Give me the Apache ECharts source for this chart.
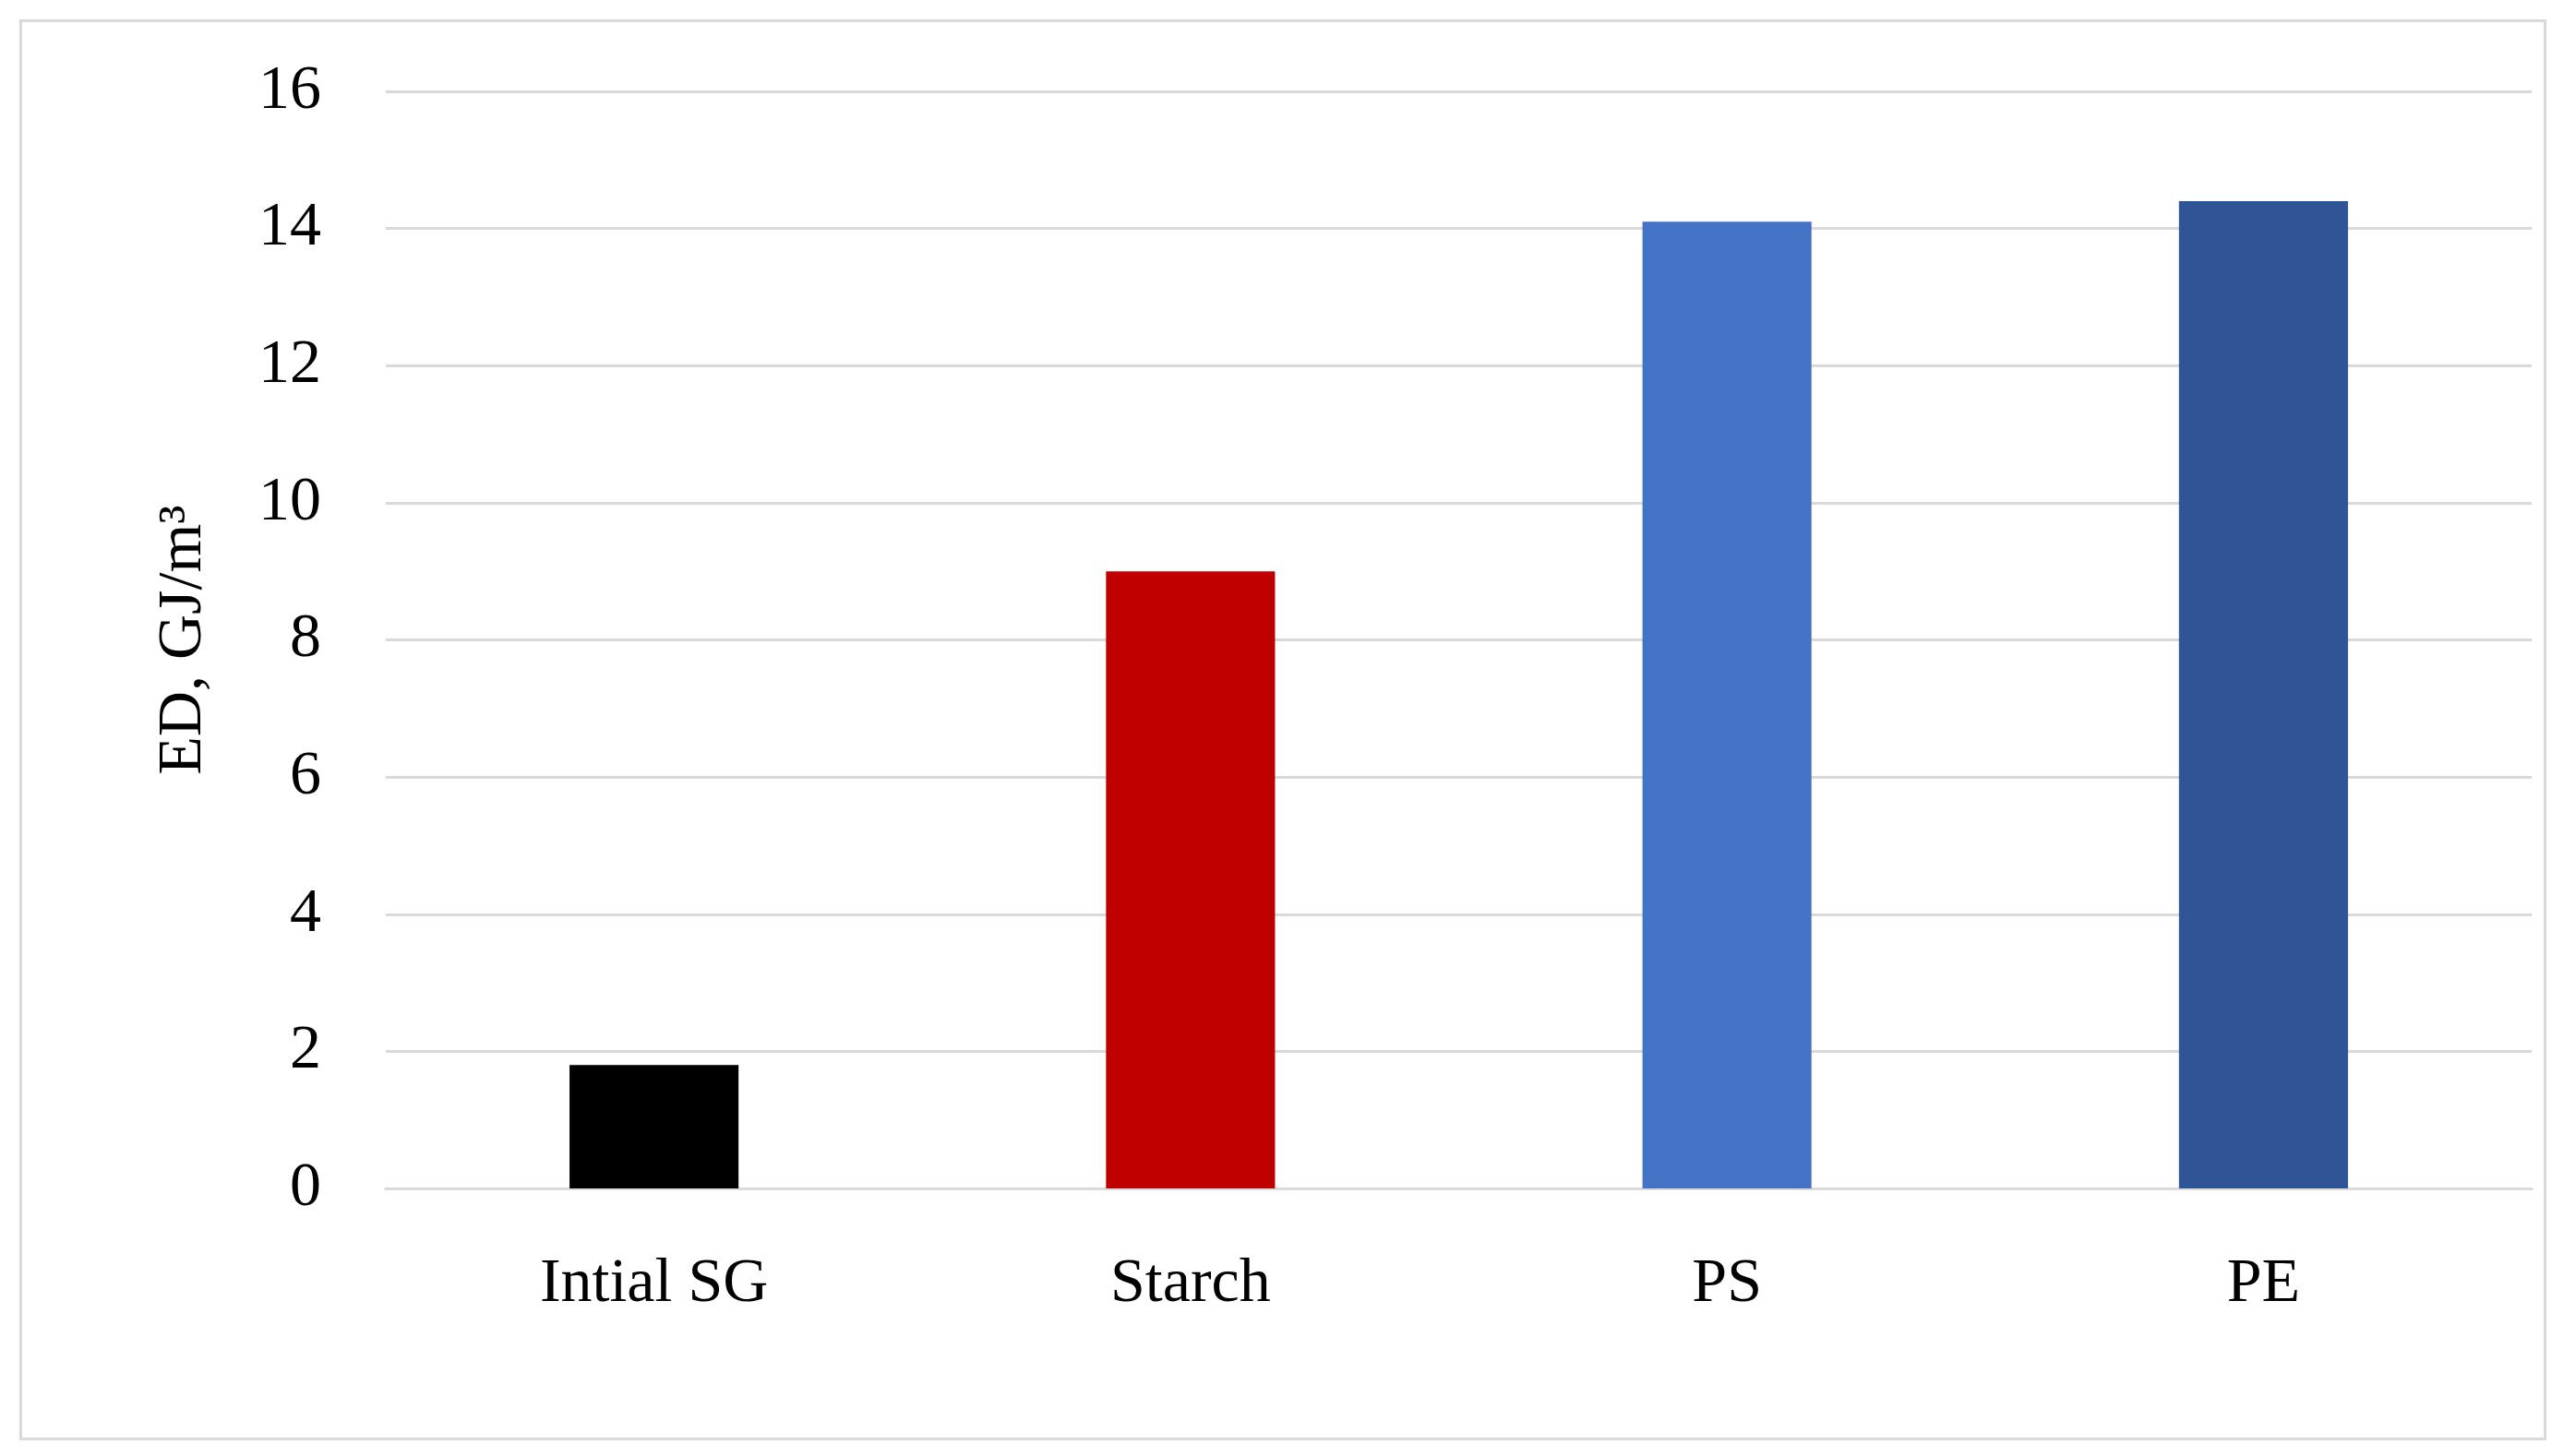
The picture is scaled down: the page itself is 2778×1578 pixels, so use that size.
<!DOCTYPE html>
<html>
<head>
<meta charset="utf-8">
<script src="https://cdn.jsdelivr.net/npm/echarts@6/dist/echarts.min.js"></script>
<style>
  html, body { margin: 0; padding: 0; background: #fff; }
  #frame { position: absolute; left: 21px; top: 21px; width: 2732px; height: 1534px; border: 3px solid #d9d9d9; }
  #chart { width: 2778px; height: 1578px; }
</style>
</head>
<body>
<div id="frame"></div>
<div id="chart"></div>
<script>
const categories = ['Intial SG', 'Starch', 'PS', 'PE']
const values = [1.8, 9.0, 14.1, 14.4]
const colors = ['#000000', '#c00000', '#4472c4', '#2f5597']
const yTicks = { min: 0, max: 16, interval: 2 }

const chart = echarts.init(document.getElementById('chart'))
chart.setOption({
  animation: false,
  textStyle: { fontFamily: 'Liberation Serif, DejaVu Serif, serif' },
  grid: { left: 418, right: 35, top: 99, bottom: 290 },
  xAxis: {
    type: 'category',
    data: categories,
    axisTick: { show: false },
    axisLine: { lineStyle: { color: '#d9d9d9', width: 3 } },
    axisLabel: { color: '#000', fontSize: 68, margin: 70, fontFamily: 'Liberation Serif, serif' }
  },
  yAxis: {
    type: 'value',
    min: yTicks.min,
    max: yTicks.max,
    interval: yTicks.interval,
    name: 'ED, GJ/m³',
    nameLocation: 'middle',
    nameGap: 185,
    nameTextStyle: { color: '#000', fontSize: 68, fontFamily: 'Liberation Serif, serif' },
    axisLine: { show: false },
    axisTick: { show: false },
    axisLabel: { color: '#000', fontSize: 68, margin: 70, fontFamily: 'Liberation Serif, serif' },
    splitLine: { lineStyle: { color: '#d9d9d9', width: 3 } }
  },
  series: [{
    type: 'bar',
    barWidth: '31.5%',
    data: values.map((v, i) => ({ value: v, itemStyle: { color: colors[i] } }))
  }]
})
</script>
</body>
</html>
